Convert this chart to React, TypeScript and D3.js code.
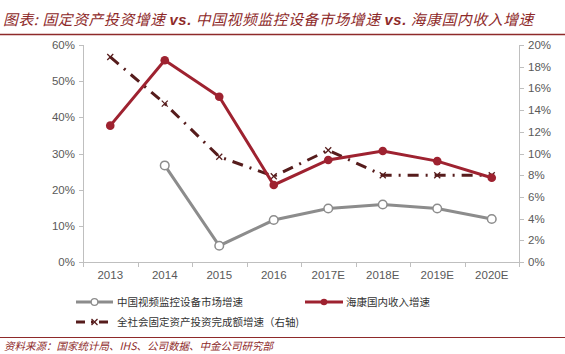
import React from 'react';
import * as d3 from 'd3';

// chart data
const years = ['2013', '2014', '2015', '2016', '2017E', '2018E', '2019E', '2020E'];
const hikDomestic = [37.7, 55.8, 45.7, 21.3, 28.2, 30.7, 27.9, 23.3]; // left axis
const cnVideoMarket = [null, 26.7, 4.5, 11.6, 14.8, 15.9, 14.8, 11.9]; // left axis
const fixedAsset = [18.9, 14.6, 9.7, 7.9, 10.3, 8.0, 8.0, 8.0]; // right axis
const leftTicks = [0, 10, 20, 30, 40, 50, 60];
const rightTicks = [0, 2, 4, 6, 8, 10, 12, 14, 16, 18, 20];

const W = 565, H = 354;
const plot = { left: 83, right: 519, top: 45, bottom: 262 };
const RED = '#9e2230';
const GRAY = '#8c8c8c';
const DARK = '#561c1c';
const TITLE_RED = '#8e2a2a';
const numFont = '"Liberation Sans", Arial, sans-serif';
const cjkFont = '"Noto Sans CJK SC", sans-serif';

function XMark({ x, y }: { x: number; y: number }) {
  const s = 3;
  return (
    <g stroke={DARK} strokeWidth={1.3}>
      <line x1={x - s} y1={y - s} x2={x + s} y2={y + s} />
      <line x1={x - s} y1={y + s} x2={x + s} y2={y - s} />
    </g>
  );
}

export default function App() {
  const x = d3.scaleBand().domain(years).range([plot.left, plot.right]);
  const yL = d3.scaleLinear().domain([0, 60]).range([plot.bottom, plot.top]);
  const yR = d3.scaleLinear().domain([0, 20]).range([plot.bottom, plot.top]);
  const cx = (d: string) => (x(d) as number) + x.bandwidth() / 2;

  const lineL = d3.line<any>()
    .defined((d) => d.v != null)
    .x((d) => cx(d.y))
    .y((d) => yL(d.v));
  const lineR = d3.line<any>().x((d) => cx(d.y)).y((d) => yR(d.v));

  const red = years.map((y, i) => ({ y, v: hikDomestic[i] }));
  const gray = years.map((y, i) => ({ y, v: cnVideoMarket[i] }));
  const dash = years.map((y, i) => ({ y, v: fixedAsset[i] }));

  const bounds = years.map((y) => x(y) as number).concat([plot.right]);

  return (
    <svg width={W} height={H} style={{ position: 'absolute', left: 0, top: 0 }}>
      <rect width={W} height={H} fill="#fff" />
      {/* title */}
      <text x={3} y={25} fill={TITLE_RED} fontSize={14.8} fontStyle="italic" fontFamily={cjkFont} letterSpacing={0.6} style={{ whiteSpace: 'pre' }}>
        {'图表: 固定资产投资增速 '}<tspan fontFamily={numFont} fontWeight="bold">vs.</tspan>{' 中国视频监控设备市场增速 '}<tspan fontFamily={numFont} fontWeight="bold">vs.</tspan>{' 海康国内收入增速'}
      </text>
      <line x1={0} x2={W} y1={34.5} y2={34.5} stroke={TITLE_RED} strokeWidth={1.5} />

      {/* axes */}
      <g stroke="#bfbfbf" strokeWidth={1}>
        <line x1={plot.left + 0.5} x2={plot.left + 0.5} y1={plot.top} y2={plot.bottom} />
        <line x1={plot.right + 0.5} x2={plot.right + 0.5} y1={plot.top} y2={plot.bottom} />
        <line x1={plot.left} x2={plot.right + 1} y1={plot.bottom + 0.5} y2={plot.bottom + 0.5} />
        {leftTicks.map((t) => (
          <line key={'lt' + t} x1={plot.left - 4} x2={plot.left} y1={Math.round(yL(t)) + 0.5} y2={Math.round(yL(t)) + 0.5} />
        ))}
        {rightTicks.map((t) => (
          <line key={'rt' + t} x1={plot.right + 1} x2={plot.right + 5} y1={Math.round(yR(t)) + 0.5} y2={Math.round(yR(t)) + 0.5} />
        ))}
        {bounds.map((b, i) => (
          <line key={'xt' + i} x1={Math.round(b) + 0.5} x2={Math.round(b) + 0.5} y1={plot.bottom} y2={plot.bottom + 5} />
        ))}
      </g>
      <g fill="#595959" fontSize={11.5} fontFamily={numFont}>
        {leftTicks.map((t) => (
          <text key={'ll' + t} x={plot.left - 8} y={yL(t)} dy="0.35em" textAnchor="end">{t}%</text>
        ))}
        {rightTicks.map((t) => (
          <text key={'rl' + t} x={plot.right + 9} y={yR(t)} dy="0.35em">{t}%</text>
        ))}
        {years.map((y) => (
          <text key={'xl' + y} x={cx(y)} y={plot.bottom + 17} textAnchor="middle">{y}</text>
        ))}
      </g>

      {/* series */}
      <path d={lineR(dash) || ''} fill="none" stroke={DARK} strokeWidth={3} strokeDasharray="11 7 2 7" />
      {dash.map((d) => <XMark key={'dx' + d.y} x={cx(d.y)} y={yR(d.v)} />)}

      <path d={lineL(gray) || ''} fill="none" stroke={GRAY} strokeWidth={3} />
      {gray.filter((d) => d.v != null).map((d) => (
        <circle key={'g' + d.y} cx={cx(d.y)} cy={yL(d.v as number)} r={4.3} fill="#fff" stroke={GRAY} strokeWidth={1.5} />
      ))}

      <path d={lineL(red) || ''} fill="none" stroke={RED} strokeWidth={3} />
      {red.map((d) => (
        <circle key={'r' + d.y} cx={cx(d.y)} cy={yL(d.v)} r={4.3} fill={RED} />
      ))}

      {/* legend */}
      <g fontFamily={cjkFont} fontSize={10.5} fill="#333">
        <line x1={76} x2={113} y1={302} y2={302} stroke={GRAY} strokeWidth={3} />
        <circle cx={94.5} cy={302} r={3.3} fill="#fff" stroke={GRAY} strokeWidth={1.2} />
        <text x={117} y={302} dy="0.35em">中国视频监控设备市场增速</text>

        <line x1={305} x2={343} y1={302} y2={302} stroke={RED} strokeWidth={3} />
        <circle cx={324} cy={302} r={3.3} fill={RED} />
        <text x={346} y={302} dy="0.35em">海康国内收入增速</text>

        <line x1={76} x2={113} y1={322} y2={322} stroke={DARK} strokeWidth={3} strokeDasharray="9 6 2 6" />
        <XMark x={94.5} y={322} />
        <text x={117} y={322} dy="0.35em">全社会固定资产投资完成额增速（右轴)</text>
      </g>

      {/* source */}
      <line x1={0} x2={W} y1={337.5} y2={337.5} stroke={TITLE_RED} strokeWidth={1.2} />
      <text x={4} y={350} fill={TITLE_RED} fontSize={10.5} fontStyle="italic" fontFamily={cjkFont}>
        资料来源：国家统计局、IHS、公司数据、中金公司研究部
      </text>
    </svg>
  );
}
